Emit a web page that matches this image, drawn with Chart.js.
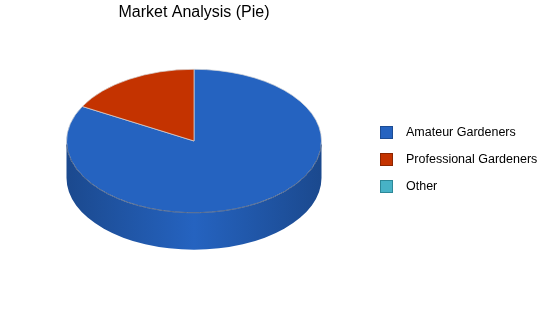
<!DOCTYPE html>
<html>
<head>
<meta charset="utf-8">
<script src="https://cdn.jsdelivr.net/npm/chart.js@4"></script>
<style>
  body { margin: 0; background: #fff; }
  #wrap { position: relative; width: 550px; height: 318px; }
  #legend { position: absolute; left: 380px; top: 126px; font: 12.5px Arial, "Liberation Sans", sans-serif; color: #000; }
  #legend .item { height: 27px; position: relative; white-space: nowrap; }
  #legend .box { position: absolute; left: 0; top: 0; width: 11px; height: 11px; border: 1px solid; }
  #legend .txt { position: absolute; left: 26px; top: -1px; line-height: 15px; }
</style>
</head>
<body>
<div id="wrap">
  <canvas id="pieChart" width="550" height="318"></canvas>
  <div id="legend"></div>
</div>
<script>
// market share data
const segments = ['Amateur Gardeners', 'Professional Gardeners', 'Other'];
const shares = [83, 17, 0];
const sliceColors = ['#2563c0', '#c43300', '#47b2c6'];
const boxBorders = ['#1c4c94', '#8c2500', '#2c8898'];

const tilt = 0.5625;  // how flat the pie looks
const depth = 37;     // thickness of the side

function shade(hex, f) {
    const n = parseInt(hex.slice(1), 16);
    const r = Math.round(((n >> 16) & 255) * f);
    const g = Math.round(((n >> 8) & 255) * f);
    const b = Math.round((n & 255) * f);
    return 'rgb(' + r + ',' + g + ',' + b + ')';
}

// draws the side of the pie, then squashes the top face
const pie3d = {
    id: 'pie3d',
    beforeDatasetsDraw(chart) {
        const ctx = chart.ctx;
        const arcs = chart.getDatasetMeta(0).data;
        if (!arcs.length) return;
        const cx = arcs[0].x;
        const cy = arcs[0].y - depth / 2;
        const rx = arcs[0].outerRadius;
        const ry = rx * tilt;

        arcs.forEach((arc, i) => {
            const a1 = Math.max(arc.startAngle, 0);
            const a2 = Math.min(arc.endAngle, Math.PI);
            if (a2 <= a1) return;
            const grad = ctx.createLinearGradient(cx - rx, 0, cx + rx, 0);
            grad.addColorStop(0, shade(sliceColors[i], 0.74));
            grad.addColorStop(0.5, sliceColors[i]);
            grad.addColorStop(1, shade(sliceColors[i], 0.74));
            ctx.save();
            ctx.beginPath();
            ctx.ellipse(cx, cy, rx, ry, 0, a1, a2);
            ctx.ellipse(cx, cy + depth, rx, ry, 0, a2, a1, true);
            ctx.closePath();
            ctx.fillStyle = grad;
            ctx.fill();
            ctx.restore();
        });

        ctx.save();
        ctx.translate(cx, cy);
        ctx.scale(1, tilt);
        ctx.translate(-cx, -arcs[0].y);
    },
    afterDatasetsDraw(chart) {
        const ctx = chart.ctx;
        const arcs = chart.getDatasetMeta(0).data;
        if (!arcs.length) return;
        ctx.restore();
        const cx = arcs[0].x;
        const cy = arcs[0].y - depth / 2;
        const rx = arcs[0].outerRadius;
        ctx.save();
        ctx.beginPath();
        ctx.ellipse(cx, cy, rx, rx * tilt, 0, 0.05, Math.PI - 0.05);
        ctx.strokeStyle = 'rgba(20,50,100,0.6)';
        ctx.lineWidth = 1;
        ctx.stroke();
        ctx.restore();
    }
};

const chart = new Chart(document.getElementById('pieChart'), {
    type: 'pie',
    data: {
        labels: segments,
        datasets: [{
            data: shares,
            backgroundColor: sliceColors,
            borderColor: 'rgba(215,215,215,0.9)',
            borderWidth: 1
        }]
    },
    options: {
        responsive: false,
        animation: false,
        layout: { padding: { left: 66, right: 228, top: 0, bottom: 30.5 } },
        plugins: {
            title: {
                display: true,
                text: 'Market Analysis (Pie)',
                color: '#000',
                font: { family: 'Arial, "Liberation Sans", sans-serif', size: 16, weight: 'normal' },
                padding: { top: 2.5, bottom: 9.8 }
            },
            legend: { display: false },
            tooltip: { enabled: false }
        }
    },
    plugins: [pie3d]
});

// legend next to the chart
const legendEl = document.getElementById('legend');
chart.options.plugins.legend.labels.generateLabels(chart).forEach((item, i) => {
    const row = document.createElement('div');
    row.className = 'item';
    row.innerHTML = '<span class="box" style="background:' + item.fillStyle + ';border-color:' + boxBorders[i] + '"></span>' +
        '<span class="txt">' + item.text + '</span>';
    legendEl.appendChild(row);
});
</script>
</body>
</html>
